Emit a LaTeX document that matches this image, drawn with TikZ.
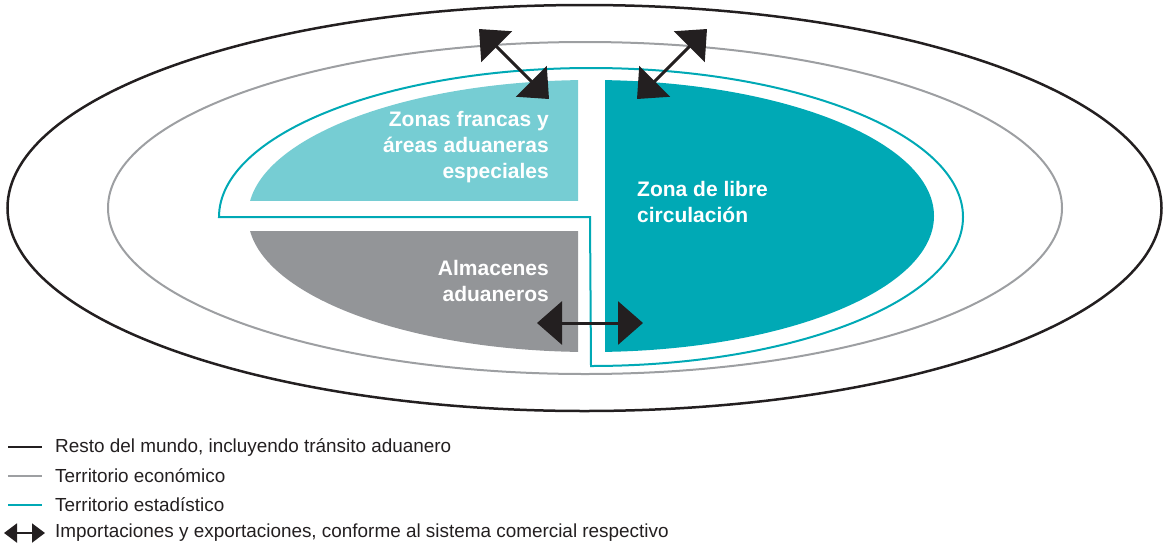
\documentclass[tikz,border=0pt]{standalone}
\usepackage{fontspec}
\setmainfont{Liberation Sans}
\usetikzlibrary{arrows.meta}
\definecolor{blk}{HTML}{231F20}
\definecolor{gry}{HTML}{9D9FA2}
\definecolor{grfill}{HTML}{939598}
\definecolor{tl}{HTML}{00A9B5}
\definecolor{ltl}{HTML}{76CDD3}
\tikzset{
  bigarrow/.style={blk, line width=3pt, {Triangle[length=25pt,width=43pt]}-{Triangle[length=25pt,width=43pt]}},
  smallarrow/.style={blk, line width=2pt, {Triangle[length=13pt,width=19pt]}-{Triangle[length=13pt,width=19pt]}},
  zonetext/.style={text=white, inner sep=0pt, font=\fontsize{21}{26}\selectfont\bfseries},
  legtext/.style={text=blk, inner sep=0pt, anchor=west, font=\fontsize{18.9}{22}\selectfont},
}
\begin{document}
\begin{tikzpicture}[x=1pt,y=1pt]
\useasboundingbox (0,0) rectangle (1164,-544);
% outer world
\draw[blk, line width=2.5pt] (584.5,-208) ellipse [x radius=577, y radius=203];
% economic territory
\draw[gry, line width=2pt] (585,-208) ellipse [x radius=477, y radius=166];
% statistical territory
\draw[tl, line width=2pt, line join=miter] (590,-217) -- (219,-217)
  arc[start angle=180, end angle=-90, x radius=372, y radius=149] -- cycle;
% zones
\begin{scope}
  \clip (240,-70) rectangle (578,-200);
  \fill[ltl] (591,-216) ellipse [x radius=343, y radius=136];
\end{scope}
\begin{scope}
  \clip (240,-231) rectangle (578,-360);
  \fill[grfill] (591,-216) ellipse [x radius=343, y radius=136];
\end{scope}
\begin{scope}
  \clip (605,-70) rectangle (940,-360);
  \fill[tl] (591,-216) ellipse [x radius=343, y radius=136];
\end{scope}
% labels
\node[zonetext, anchor=north east, align=right] (zf) at (549,-111.5) {Zonas francas y\\áreas aduaneras\\especiales};
\node[zonetext, anchor=north east, align=right] (alm) at (549,-260) {Almacenes\\aduaneros};
\node[zonetext, anchor=north west, align=left] (zlc) at (637,-181.5) {Zona de libre\\circulación};
% arrows
\coordinate (a1) at (479,-29);
\coordinate (a2) at (549,-99);
\coordinate (b1) at (707,-29);
\coordinate (b2) at (637,-99);
\coordinate (c1) at (537,-323);
\coordinate (c2) at (643,-323);
\draw[bigarrow] (a1) -- (a2);
\draw[bigarrow] (b1) -- (b2);
\draw[bigarrow] (c1) -- (c2);
% legend
\coordinate (l1a) at (8,-447);  \coordinate (l1b) at (42,-447);
\coordinate (l2a) at (8,-476);  \coordinate (l2b) at (42,-476);
\coordinate (l3a) at (8,-505);  \coordinate (l3b) at (42,-505);
\coordinate (l4a) at (4,-533);  \coordinate (l4b) at (45,-533);
\draw[blk, line width=2.5pt] (l1a) -- (l1b);
\draw[gry, line width=2.5pt] (l2a) -- (l2b);
\draw[tl, line width=2.5pt] (l3a) -- (l3b);
\draw[smallarrow] (l4a) -- (l4b);
\node[legtext] (t1) at (55,-447) {Resto del mundo, incluyendo tránsito aduanero};
\node[legtext] (t2) at (55,-476) {Territorio económico};
\node[legtext] (t3) at (55,-505) {Territorio estadístico};
\node[legtext] (t4) at (55,-533) {Importaciones y exportaciones, conforme al sistema comercial respectivo};
\end{tikzpicture}
\end{document}
